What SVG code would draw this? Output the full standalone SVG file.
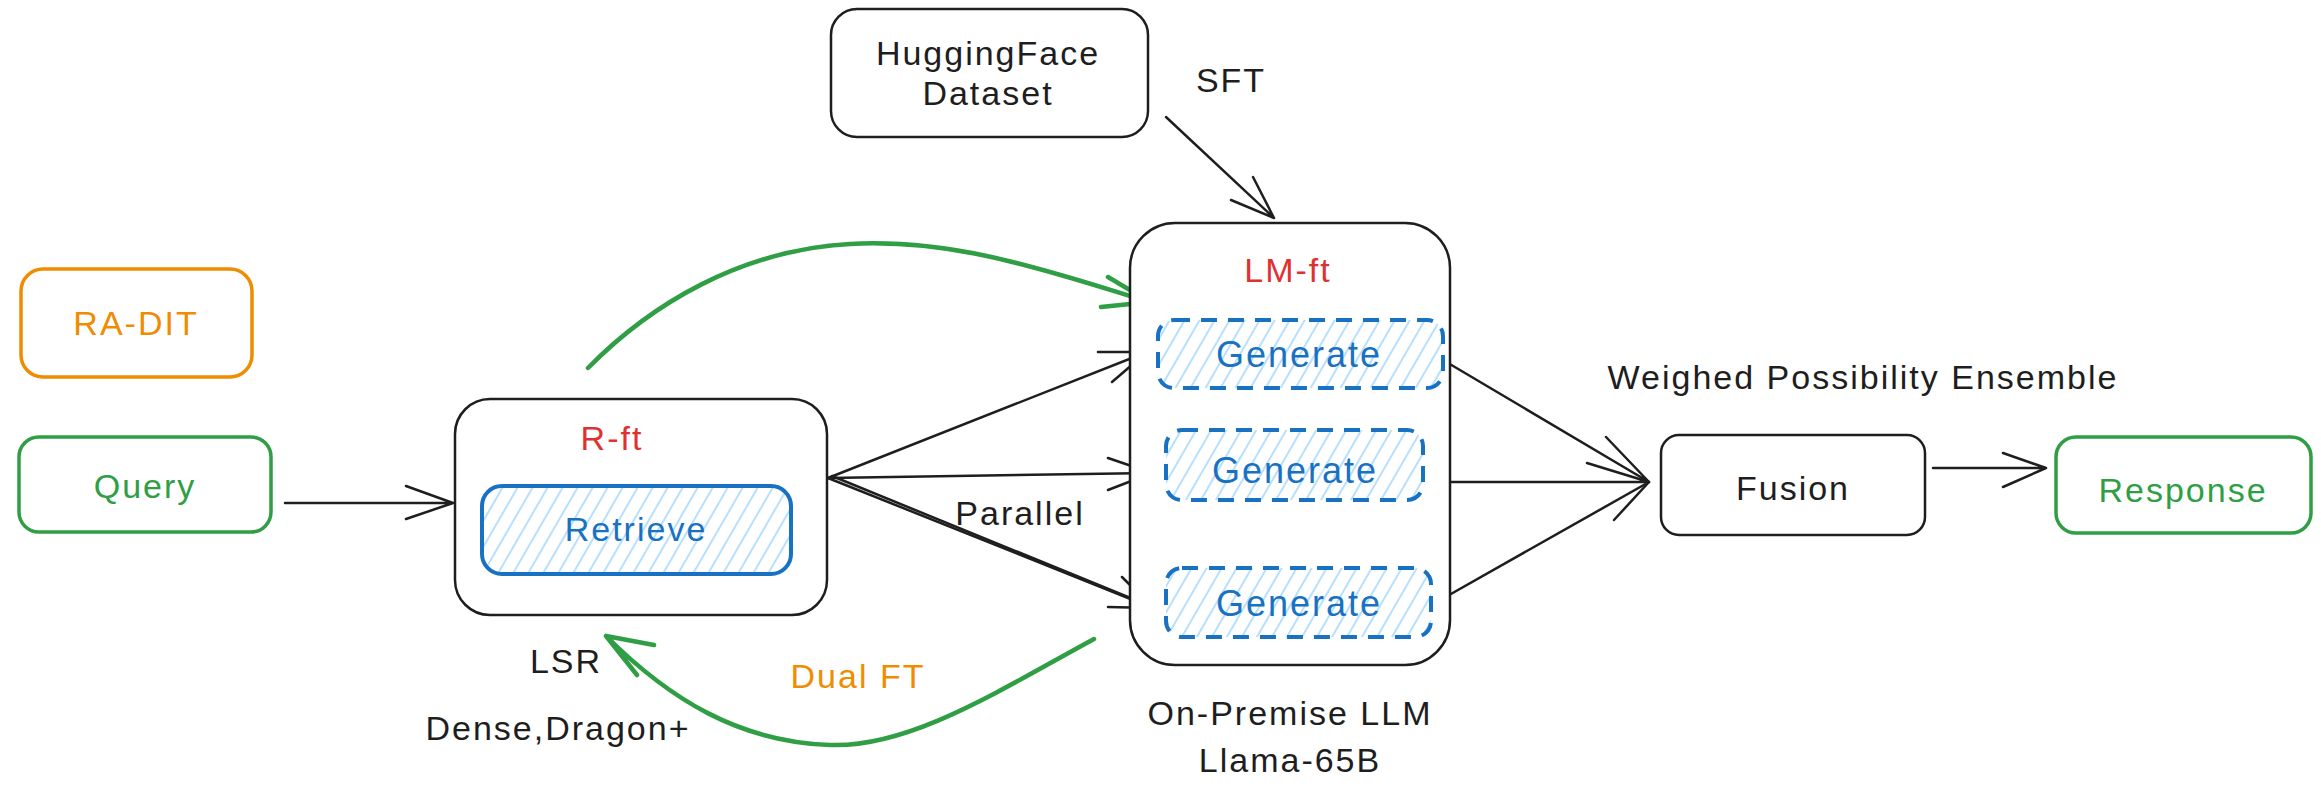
<svg xmlns="http://www.w3.org/2000/svg" width="2321" height="789" viewBox="0 0 2321 789">
<style>
text{font-family:"Liberation Sans",Arial,sans-serif;font-size:34px;letter-spacing:2px;text-anchor:middle;dominant-baseline:central}
.gen{font-size:36px}
.blk{fill:#1e1e1e}.red{fill:#e03131}.blu{fill:#1971c2}.grn{fill:#2f9e44}.org{fill:#f08c00}
.box{fill:#fff;stroke:#1e1e1e;stroke-width:2.5}
.gbox{fill:#fff;stroke:#2f9e44;stroke-width:3.5}
.obox{fill:#fff;stroke:#f08c00;stroke-width:3.5}
.hbox{fill:url(#hatch);stroke:#1971c2;stroke-width:4}
.dbox{fill:url(#hatch);stroke:#1971c2;stroke-width:4;stroke-dasharray:16 11}
.ln{fill:none;stroke:#1e1e1e;stroke-width:2.5;stroke-linecap:round;stroke-linejoin:round}
.gl{fill:none;stroke:#2f9e44;stroke-width:4.5;stroke-linecap:round;stroke-linejoin:round}
</style>
<defs>
<pattern id="hatch" patternUnits="userSpaceOnUse" width="13" height="13" patternTransform="rotate(30)">
<rect width="13" height="13" fill="#fff"/>
<line x1="3" y1="0" x2="3" y2="13" stroke="#a5d8ff" stroke-width="1.6"/>
</pattern>
</defs>
<rect width="2321" height="789" fill="#fff"/>

<g id="connectors">
<!-- Query -> R-ft -->
<path class="ln" d="M285,503 L453,503 M406,486 L453,503 L406,519"/>
<!-- SFT -->
<path class="ln" d="M1166,117 L1274,218 M1231,200 L1274,218 L1253,177"/>
<!-- R-ft -> Generates -->
<path class="ln" d="M828,478 L1147,352 M1098,352 L1147,352 L1112,382"/>
<path class="ln" d="M828,478 L1152,473 M1108,458 L1152,473 L1108,490"/>
<path class="ln" d="M828,478 L1153,608 M1122,577 L1153,608 L1108,607"/>
<path class="ln" d="M832,476 L1150,606"/>
<!-- Generates -> Fusion -->
<path class="ln" d="M1443,360 L1649,482 M1606,437 L1649,482"/>
<path class="ln" d="M1423,482 L1649,482 M1587,463 L1649,482 L1614,520"/>
<path class="ln" d="M1435,603 L1649,482"/>
<!-- Fusion -> Response -->
<path class="ln" d="M1933,468 L2046,468 M2003,453 L2046,468 L2003,487"/>
<!-- green top -->
<path class="gl" d="M588,368 C650,305 740,250 850,244 C960,238 1060,275 1150,302 M1108,277 L1150,302 L1101,307"/>
<!-- green bottom Dual FT -->
<path class="gl" d="M1094,639 C1000,690 910,748 830,745 C740,742 670,700 606,636 M654,645 L606,636 L637,675"/>
</g>

<g id="ra-dit">
<rect class="obox" x="21" y="269" width="231" height="108" rx="22"/>
<text class="org" x="136" y="323">RA-DIT</text>
</g>
<g id="query">
<rect class="gbox" x="19" y="437" width="252" height="95" rx="20"/>
<text class="grn" x="145" y="486">Query</text>
</g>
<g id="r-ft">
<rect class="box" x="455" y="399" width="372" height="216" rx="35"/>
<text class="red" x="612" y="438">R-ft</text>
</g>
<g id="retrieve">
<rect class="hbox" x="482" y="486" width="309" height="88" rx="20"/>
<text class="blu" x="636" y="529">Retrieve</text>
</g>
<g id="huggingface">
<rect class="box" x="831" y="9" width="317" height="128" rx="26"/>
<text class="blk" x="988" y="53">HuggingFace</text>
<text class="blk" x="988" y="93">Dataset</text>
</g>
<g id="lm-ft">
<rect class="box" x="1130" y="223" width="320" height="442" rx="45"/>
<text class="red" x="1288" y="270">LM-ft</text>
</g>
<g id="generate1">
<rect class="dbox" x="1158" y="320" width="285" height="68" rx="16"/>
<text class="blu gen" x="1299" y="354">Generate</text>
</g>
<g id="generate2">
<rect class="dbox" x="1166" y="430" width="257" height="70" rx="16"/>
<text class="blu gen" x="1295" y="470">Generate</text>
</g>
<g id="generate3">
<rect class="dbox" x="1166" y="568" width="265" height="69" rx="16"/>
<text class="blu gen" x="1299" y="603">Generate</text>
</g>
<g id="fusion">
<rect class="box" x="1661" y="435" width="264" height="100" rx="18"/>
<text class="blk" x="1793" y="488">Fusion</text>
</g>
<g id="response">
<rect class="gbox" x="2056" y="437" width="255" height="96" rx="20"/>
<text class="grn" x="2183" y="490">Response</text>
</g>

<g id="labels">
<text class="blk" x="1231" y="80">SFT</text>
<text class="blk" x="1020" y="513">Parallel</text>
<text class="blk" x="1863" y="377">Weighed Possibility Ensemble</text>
<text class="blk" x="566" y="661">LSR</text>
<text class="blk" x="558" y="728">Dense,Dragon+</text>
<text class="org" x="858" y="676">Dual FT</text>
<text class="blk" x="1290" y="713">On-Premise LLM</text>
<text class="blk" x="1290" y="760">Llama-65B</text>
</g>
</svg>
